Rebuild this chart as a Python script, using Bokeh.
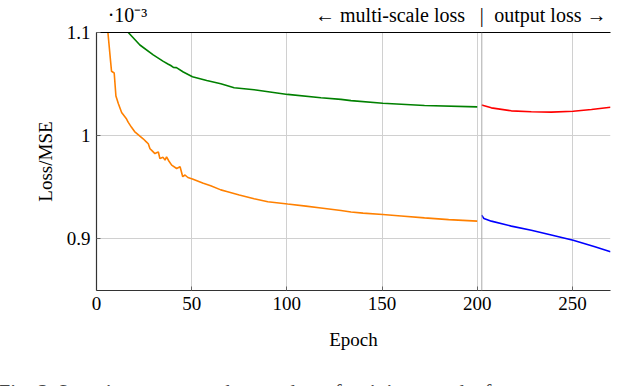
from bokeh.plotting import figure
from bokeh.models import Span, Label, FixedTicker, LinearAxis, Range1d
from bokeh.embed import file_html
from bokeh.resources import INLINE

# ---- data (values in units of 1e-3) ----
ms_orange_x = [6, 7.4, 7.9, 9.3, 10.2, 11.5, 13.2, 15.8, 16.7, 18.4, 20, 22.8, 24.5, 26.3, 27.2,
               28.1, 29, 30.7, 31.5, 32.5, 33.3, 35, 36, 36.8, 38, 39.5, 42.1, 43.9, 45.3, 46.5,
               48, 50.4, 56.1, 60, 65.3, 68.4, 75, 82.8, 90, 100.4, 110, 117.9, 128.4, 133.7,
               140, 150.4, 160, 172.3, 185, 200]
ms_orange_y = [1.1, 1.072, 1.0624, 1.0608, 1.0385, 1.031, 1.0225, 1.0161, 1.0129, 1.0081, 1.004,
               0.9995, 0.997, 0.9938, 0.9922, 0.9874, 0.9858, 0.9826, 0.9835, 0.9842, 0.9778,
               0.979, 0.9763, 0.9794, 0.9755, 0.9715, 0.9682, 0.9699, 0.9603, 0.9619, 0.9595,
               0.9581, 0.9539, 0.9515, 0.9475, 0.9459, 0.9425, 0.9389, 0.936, 0.9338, 0.9318,
               0.93, 0.9275, 0.9261, 0.925, 0.9236, 0.9222, 0.9204, 0.9187, 0.9172]
ms_green_x = [16.7, 22.8, 29.8, 35.1, 37.5, 39, 40.4, 42, 45.6, 50.4, 57.9, 65.3, 72.3, 82.8,
              100.4, 117.9, 128.4, 133.7, 150.4, 172.3, 200]
ms_green_y = [1.1, 1.0879, 1.0783, 1.072, 1.0695, 1.068, 1.0662, 1.066, 1.0617, 1.0572, 1.0534,
              1.0503, 1.0464, 1.0445, 1.040, 1.0368, 1.0352, 1.034, 1.0314, 1.0292, 1.0279]
out_red_x = [202.3, 207.4, 217.9, 228.4, 238.9, 250.4, 260, 270]
out_red_y = [1.0298, 1.027, 1.0241, 1.0232, 1.0228, 1.0237, 1.0254, 1.0276]
out_blue_x = [202.3, 203.5, 207.4, 217.9, 228.4, 238.9, 250.4, 261.8, 270]
out_blue_y = [0.923, 0.9198, 0.9172, 0.9124, 0.9083, 0.9038, 0.8987, 0.8923, 0.8876]

x_ticks = [0, 50, 100, 150, 200, 250]
y_ticks = [0.9, 1.0, 1.1]
y_tick_labels = ["0.9", "1", "1.1"]
switch_epoch = 202.4

# header texts placed along the top edge (epoch position of each text's centre)
header_pos = [16.3, 154.2, switch_epoch, 238.4]
header_txt = ["\u00b710\u207b\u00b3", "\u2190 multi-scale loss", "|", "output loss \u2192"]
caption = "Fig. 2: Loss improvement by number of training epochs for com"

FONT = "Liberation Serif"

p = figure(width=638, height=386, output_backend="svg", toolbar_location=None,
           x_range=Range1d(0, 270), y_range=Range1d(0.85, 1.1),
           min_border_left=96, min_border_right=28, min_border_top=29, min_border_bottom=96,
           x_axis_label="Epoch", y_axis_label="Loss/MSE")
p.outline_line_color = None
p.background_fill_color = "white"
p.border_fill_color = "white"

for ax in (p.xaxis[0], p.yaxis[0]):
    ax.axis_line_color = "#333333"
    ax.axis_line_width = 1.2
    ax.major_tick_in = 4
    ax.major_tick_out = 0
    ax.major_tick_line_color = "#666666"
    ax.minor_tick_line_color = None
    ax.major_label_text_font = FONT
    ax.major_label_text_font_size = "19px"
    ax.major_label_text_color = "black"
    ax.axis_label_text_font = FONT
    ax.axis_label_text_font_size = "19px"
    ax.axis_label_text_font_style = "normal"
    ax.axis_label_text_color = "black"

p.xaxis[0].ticker = FixedTicker(ticks=x_ticks)
p.yaxis[0].ticker = FixedTicker(ticks=y_ticks)
p.yaxis[0].major_label_overrides = dict(zip(y_ticks, y_tick_labels))
p.xaxis[0].major_label_standoff = 6
p.xaxis[0].axis_label_standoff = 16
p.yaxis[0].major_label_standoff = 6
p.yaxis[0].axis_label_standoff = 8

top = LinearAxis(ticker=FixedTicker(ticks=header_pos),
                 major_label_overrides=dict(zip(header_pos, header_txt)),
                 major_label_text_font=FONT, major_label_text_font_size="20px",
                 major_label_text_color="black", major_label_standoff=7,
                 axis_line_color="black", axis_line_width=1.2,
                 major_tick_in=0, major_tick_out=0, minor_tick_line_color=None)
p.add_layout(top, "above")

p.grid.grid_line_color = "#d0d0d0"
p.grid.grid_line_width = 1
p.xgrid.ticker = FixedTicker(ticks=x_ticks)
p.ygrid.ticker = FixedTicker(ticks=y_ticks)

p.add_layout(Span(location=switch_epoch, dimension="height", line_color="#aaaaaa", line_width=1))

p.line(ms_green_x, ms_green_y, line_color="#008000", line_width=1.6)
p.line(ms_orange_x, ms_orange_y, line_color="#ff8000", line_width=1.6)
p.line(out_red_x, out_red_y, line_color="#ff0000", line_width=1.6)
p.line(out_blue_x, out_blue_y, line_color="#0000ff", line_width=1.6)

p.add_layout(Label(x=-51.6, y=0.7517, text=caption, text_align="left",
                   text_font=FONT, text_font_size="21.5px", text_baseline="alphabetic"), "below")

open("out.html", "w").write(file_html(p, INLINE))
